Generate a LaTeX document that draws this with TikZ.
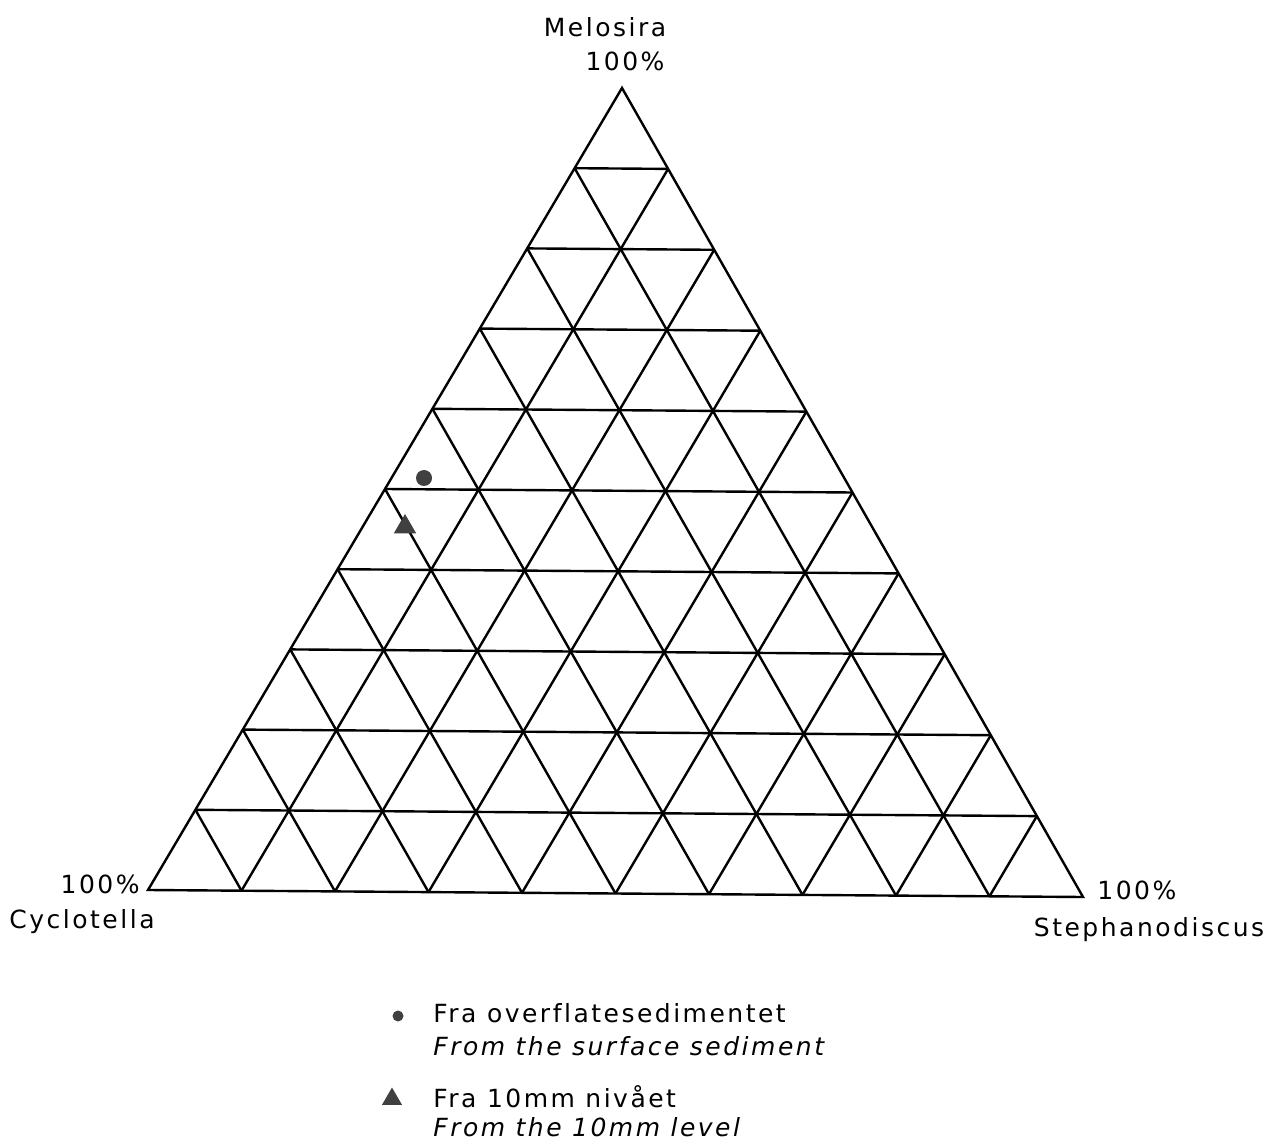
\documentclass[tikz,border=0pt]{standalone}
\usepackage{fontspec}
\setmainfont{DejaVu Sans}[LetterSpace=10,Ligatures={NoCommon}]
\usetikzlibrary{calc}
\usetikzlibrary{shapes.geometric}

\begin{document}
\begin{tikzpicture}[x=0.5pt,y=-0.5pt]
\tikzset{
  gridline/.style={line width=1.2pt},
  label/.style={font=\fontsize{12.5}{14}\selectfont, inner sep=0pt},
  dot/.style={circle, fill=black!75, inner sep=0pt},
  tri/.style={regular polygon, regular polygon sides=3, fill=black!75, inner sep=0pt}
}
\useasboundingbox (0,0) rectangle (1278,1143);

\coordinate (A) at (622,88);
\coordinate (L) at (148,890);
\coordinate (R) at (1083,897);

\draw[gridline] (A) -- (L) -- (R) -- cycle;
\foreach \i in {1,...,9} {
  \draw[gridline] ($(L)!\i/10!(A)$) -- ($(R)!\i/10!(A)$);
  \draw[gridline] ($(L)!\i/10!(R)$) -- ($(A)!\i/10!(R)$);
  \draw[gridline] ($(R)!\i/10!(L)$) -- ($(A)!\i/10!(L)$);
}

\node[label] (melosira) at (605,27) {Melosira};
\node[label] (pctA) at (625,61) {100\%};
\node[label, anchor=east] (pctL) at (140,884) {100\%};
\node[label] (cyclotella) at (82,922) {Cyclotella};
\node[label, anchor=west] (pctR) at (1097,890) {100\%};
\node[label] (stephano) at (1149,930) {Stephanodiscus};

\node[dot, minimum size=8pt] (surface) at (424,478) {};
\node[tri, minimum size=13pt] (level) at (405,527) {};

\node[dot, minimum size=5.5pt] (legdot) at (398,1016) {};
\node[label, anchor=west] (legA) at (433,1013) {Fra overflatesedimentet};
\node[label, anchor=west] (legAe) at (433,1046) {\itshape From the surface sediment};
\node[tri, minimum size=11.5pt] (legtri) at (392,1099) {};
\node[label, anchor=west] (legB) at (433,1097) {Fra 10mm nivået};
\node[label, anchor=west] (legBe) at (433,1127) {\itshape From the 10mm level};
\end{tikzpicture}
\end{document}
